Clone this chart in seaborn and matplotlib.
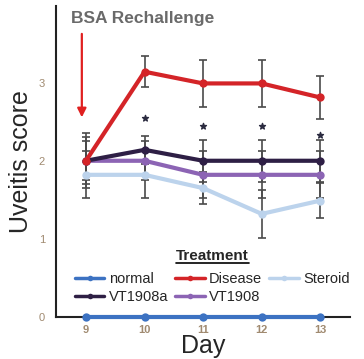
import numpy as np
import pandas as pd
import matplotlib
matplotlib.use("Agg")
import matplotlib.pyplot as plt
import seaborn as sns

days = [9, 10, 11, 12, 13]
treatments = ["normal", "VT1908a", "Disease", "VT1908", "Steroid"]
normal = [0, 0, 0, 0, 0]
disease = [2.0, 3.14, 2.99, 2.99, 2.81]
vt1908a = [2.0, 2.14, 2.0, 2.0, 2.0]
vt1908 = [2.0, 2.0, 1.82, 1.82, 1.82]
steroid = [1.82, 1.82, 1.65, 1.32, 1.49]

disease_err = [0.35, 0.2, 0.3, 0.3, 0.28]
vt1908a_err = [0.3, 0.18, 0.27, 0.27, 0.27]
vt1908_err = [0.25, 0.25, 0.3, 0.3, 0.3]
steroid_err = [0.3, 0.3, 0.2, 0.31, 0.22]

star_y = [2.55, 2.45, 2.45, 2.33]
star_days = [10, 11, 12, 13]

colors = {"normal": "#3c72c2", "Disease": "#d42428", "Steroid": "#bcd3ec",
          "VT1908a": "#2e1f45", "VT1908": "#8c64b4"}

values = {"normal": normal, "Disease": disease, "Steroid": steroid,
          "VT1908a": vt1908a, "VT1908": vt1908}
errors = {"Disease": disease_err, "Steroid": steroid_err,
          "VT1908a": vt1908a_err, "VT1908": vt1908_err}

rows = []
for t in treatments:
    for d, v in zip(days, values[t]):
        rows.append({"Day": d, "score": v, "Treatment": t})
df = pd.DataFrame(rows)

sns.set_style("white")
plt.rcParams["font.family"] = ["Liberation Sans", "DejaVu Sans"]

fig = plt.figure(figsize=(3.64, 3.59), dpi=100)
ax = fig.add_axes([0.154, 0.117, 0.808, 0.866])

# error bars first, lines drawn over them
for t in ["Steroid", "VT1908", "VT1908a", "Disease"]:
    ax.errorbar(days, values[t], yerr=errors[t], fmt="none", ecolor="#4a4a4a",
                elinewidth=1.2, capsize=3, capthick=1.2, zorder=2)

draw_order = ["Steroid", "VT1908", "VT1908a", "Disease", "normal"]
for t in draw_order:
    sub = df[df["Treatment"] == t]
    sns.lineplot(data=sub, x="Day", y="score", color=colors[t], lw=3,
                 marker="o", markersize=6, markeredgewidth=0, ax=ax,
                 label=t, zorder=3, clip_on=False)

ax.scatter(star_days, star_y, marker="*", s=20, color="#2b2b40", zorder=4)

ax.annotate("", xy=(8.93, 2.52), xytext=(8.93, 3.66),
            arrowprops=dict(arrowstyle="-|>", color="#e02020", lw=1.6,
                            mutation_scale=13))
ax.text(8.75, 3.82, "BSA Rechallenge", fontsize=12.5, fontweight="bold",
        color="#6a6a6a", va="center", ha="left")

ax.set_xlim(8.49, 13.51)
ax.set_ylim(0, 3.98)
ax.set_xticks(days)
ax.set_yticks([0, 1, 2, 3])
ax.tick_params(axis="y", length=0, labelsize=8, labelcolor="#a08a70", pad=8)
ax.tick_params(axis="x", length=0, labelsize=8, labelcolor="#a08a70", pad=6)
for lab in ax.get_xticklabels():
    lab.set_fontweight("bold")
ax.set_xlabel("Day", fontsize=18, labelpad=-1)
ax.set_ylabel("Uveitis score", fontsize=18, labelpad=4)
sns.despine(ax=ax)
for s in ["left", "bottom"]:
    ax.spines[s].set_color("#222222")
    ax.spines[s].set_linewidth(1.5)

handles, labels = ax.get_legend_handles_labels()
lookup = dict(zip(labels, handles))
leg = ax.legend([lookup[t] for t in treatments], treatments, ncol=3,
                loc="lower left", bbox_to_anchor=(0.02, 0.0), frameon=False,
                fontsize=10.5, handlelength=2.0, handletextpad=0.3,
                columnspacing=0.5, labelspacing=0.25,
                title="Treatment", title_fontproperties={"weight": "bold", "size": 11})
for h in leg.legend_handles:
    h.set_linewidth(2.5)
    h.set_markersize(4)
leg._legend_box.sep = 7  # a bit more room under the title

# underline the legend title
fig.canvas.draw()
bb = leg.get_title().get_window_extent().transformed(fig.transFigure.inverted())
fig.add_artist(plt.Line2D([bb.x0, bb.x1], [bb.y0, bb.y0], color="black", lw=1.2,
                          transform=fig.transFigure))

fig.savefig("out.png", dpi=100)
